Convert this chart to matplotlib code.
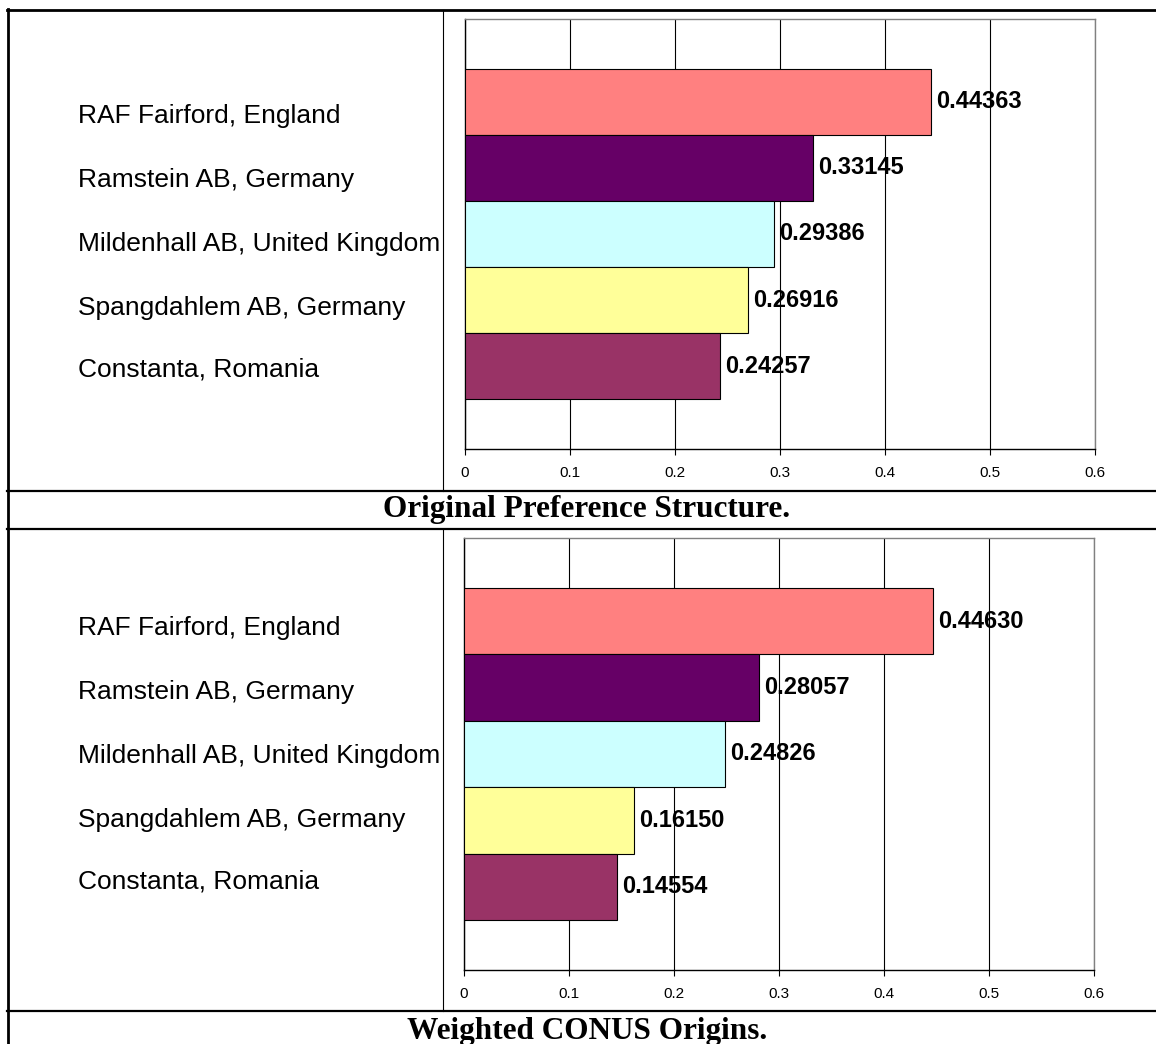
import matplotlib
matplotlib.use("Agg")
import matplotlib.pyplot as plt
from matplotlib import font_manager
from matplotlib.lines import Line2D

locations = ["RAF Fairford, England", "Ramstein AB, Germany",
             "Mildenhall AB, United Kingdom", "Spangdahlem AB, Germany",
             "Constanta, Romania"]
original_pref = [0.44363, 0.33145, 0.29386, 0.26916, 0.24257]
weighted_conus = [0.44630, 0.28057, 0.24826, 0.16150, 0.14554]
bar_colors = ["#FF8080", "#660066", "#CCFFFF", "#FFFF99", "#993366"]
x_ticks = [0, 0.1, 0.2, 0.3, 0.4, 0.5, 0.6]
x_tick_labels = ["0", "0.1", "0.2", "0.3", "0.4", "0.5", "0.6"]
captions = ["Original Preference Structure.", "Weighted CONUS Origins."]

W, H = 1156, 1044


def pick_font(names, fallback):
    for name in names:
        try:
            font_manager.findfont(name, fallback_to_default=False)
            return name
        except Exception:
            pass
    return fallback


NARROW = pick_font(["Liberation Sans Narrow", "Arial Narrow"], "Liberation Sans")
SANS = pick_font(["Liberation Sans", "Arial"], "DejaVu Sans")
SERIF = pick_font(["Liberation Serif", "Times New Roman"], "DejaVu Serif")


def fx(px):
    return px / W


def fy(py):
    return 1 - py / H


def hline(fig, y, x0, x1, lw):
    fig.add_artist(Line2D([fx(x0), fx(x1)], [fy(y), fy(y)], color="black",
                          lw=lw, transform=fig.transFigure))


def vline(fig, x, y0, y1, lw):
    fig.add_artist(Line2D([fx(x), fx(x)], [fy(y0), fy(y1)], color="black",
                          lw=lw, transform=fig.transFigure))


def draw_chart(fig, box, values):
    left, top, right, bottom = box
    ax = fig.add_axes([fx(left), fy(bottom), fx(right - left), (bottom - top) / H])
    pos = list(range(len(values)))
    bars = ax.barh(pos, values, height=1.0, color=bar_colors,
                   edgecolor="black", linewidth=0.8, zorder=3)
    for rect, v in zip(bars, values):
        ax.annotate(f"{v:.5f}", xy=(rect.get_width(), rect.get_y() + 0.5),
                    xytext=(4, 0), textcoords="offset points",
                    ha="left", va="center", fontsize=17, fontweight="bold",
                    family=NARROW, zorder=4)
    ax.set_xlim(0, 0.6)
    ax.set_ylim(5.25, -1.25)
    ax.set_yticks([])
    ax.set_xticks(x_ticks)
    ax.set_xticklabels(x_tick_labels, family=NARROW, fontsize=11)
    ax.tick_params(axis="x", length=4, width=0.8, pad=8, color="black")
    ax.xaxis.grid(True, color="black", linewidth=0.8, zorder=0)
    for s in ("top", "right"):
        ax.spines[s].set_color("#808080")
        ax.spines[s].set_linewidth(1.0)
    for s in ("left", "bottom"):
        ax.spines[s].set_color("black")
        ax.spines[s].set_linewidth(1.0)
    return ax


fig = plt.figure(figsize=(W / 100, H / 100), dpi=100)

draw_chart(fig, (465, 19, 1095, 449), original_pref)
draw_chart(fig, (464, 538, 1094, 970), weighted_conus)

# left column labels
label_rows_top = [116, 180, 244, 308, 370]
label_rows_bottom = [628, 692, 756, 820, 882]
for rows in (label_rows_top, label_rows_bottom):
    for name, y in zip(locations, rows):
        fig.text(fx(78), fy(y), name, family=SANS, fontsize=19,
                 ha="left", va="center")

# captions
fig.text(fx(587), fy(510), captions[0], family=SERIF, fontweight="bold",
         fontsize=22.5, ha="center", va="center")
fig.text(fx(587), fy(1031), captions[1], family=SERIF, fontweight="bold",
         fontsize=22.5, ha="center", va="center")

# table borders
hline(fig, 10, 7, W + 2, 2.0)
vline(fig, 8, 9, H + 2, 2.0)
hline(fig, 491, 7, W + 2, 1.6)
hline(fig, 529, 7, W + 2, 1.6)
hline(fig, 1011, 7, W + 2, 1.6)
vline(fig, 443, 10, 491, 0.8)
vline(fig, 443, 529, 1011, 0.8)

fig.savefig("out.png", dpi=100)
